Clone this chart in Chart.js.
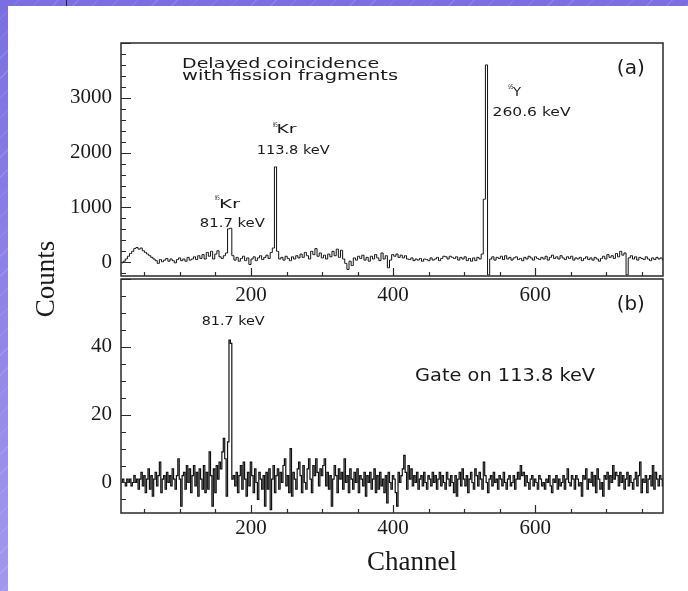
<!DOCTYPE html>
<html>
<head>
<meta charset="utf-8">
<script src="https://cdn.jsdelivr.net/npm/chart.js@4.4.1/dist/chart.umd.min.js"></script>
<style>
html, body { margin: 0; padding: 0; }
body {
    width: 688px; height: 591px; overflow: hidden; position: relative;
    background:
        repeating-linear-gradient(135deg, rgba(255,255,255,0) 0 13px, rgba(255,255,255,0.13) 13px 14px),
        linear-gradient(180deg, #7a6fe0 0%, #a398ef 100%);
}
#sheet { position: absolute; left: 8px; top: 6px; right: 0; bottom: 0; background: #fff; }
#mark { position: absolute; left: 66px; top: 0; width: 1px; height: 6px; background: #222; }
canvas { position: absolute; left: 0; top: 0; }
</style>
</head>
<body>
<div id="sheet"></div>
<div id="mark"></div>
<canvas id="chartA" width="688" height="591"></canvas>
<canvas id="chartB" width="688" height="591"></canvas>
<script>
var d = document;
var getEl = (id) => {
    return d.getElementById(id);
};

// panel (a): delayed coincidence with fission fragments, 3 channels per bin
var binStartA = 17;
var binWidthA = 3;
var countsA = [
    -10, 20, 60, 110, 160, 200, 250, 270, 240, 260,      // ch 17
    210, 180, 150, 120, 90, 60, 30, -20, 50, 10,         // ch 47
    40, 70, 20, 60, 30, -10, 50, 80, 30, 60,             // ch 77
    20, 90, 40, 60, 100, 50, 120, 70, 140, 60,           // ch 107
    180, 110, 200, 60, 150, 210, 100, 70, 120, 170,      // ch 137
    610, 620, 120, 40, 90, 20, 70, 110, 30, 80,          // ch 167  (81.7 keV)
    -40, 60, 100, 30, 80, 120, 50, 90, 130, 70,          // ch 197
    180, 260, 1740, 200, 60, 90, 40, 110, 70, 30,        // ch 227  (113.8 keV)
    100, 60, 120, 80, 150, 90, 180, 120, 60, 200,        // ch 257
    140, 250, 110, 170, 80, 130, 60, 150, 100, 200,      // ch 287
    120, 240, 90, 220, 60, -20, -130, 20, -60, 80,       // ch 317
    40, 110, 70, 130, 40, 90, 20, 110, 60, 140,          // ch 347
    80, 30, 170, 60, 120, -100, 40, 140, 110, 150,       // ch 377
    90, 130, 80, 120, 60, 50, 80, 30, 60, 40,            // ch 407
    70, 20, 60, 50, 30, 80, 40, 60, 90, 30,              // ch 437
    70, 110, 100, 60, 110, 90, 70, 100, 40, 90,          // ch 467
    60, 100, 30, 70, 20, 80, 30, 90, 60, 150,            // ch 497
    1150, 3600, -230, 60, 100, 40, 90, 70, 110, 50,      // ch 527  (260.6 keV)
    120, 60, 90, 40, 80, 100, 50, 70, 30, 90,            // ch 557
    60, 110, 80, 40, 100, 70, 50, 90, 60, 110,           // ch 587
    40, 90, 130, 70, 100, 60, 120, 80, 50, 100,          // ch 617
    70, 110, 40, 80, 60, 90, 30, 70, 100, 50,            // ch 647
    80, 40, 90, 60, 20, 70, 110, 60, 140, 90,            // ch 677
    120, 70, 160, 100, 200, 130, 170, -230, 80, 120,     // ch 707
    60, 100, 40, 90, 70, 50, 100, 60, 30, 80,            // ch 737
    50, 90, 60, 80, 40                                   // ch 767
];

// panel (b): gate on 113.8 keV, 2 channels per bin
var binStartB = 17;
var binWidthB = 2;
var countsB = [
    0, 1, 0, -1, 1, 0, 1, -1, 0, 2, 0, 1, -2, 1, 3, -1, 2, -3, 1, 4,        // ch 17
    -2, 2, -4, 1, 3, -1, 2, 6, -3, 1, 2, -2, 3, 0, 2, -1, 4, 1, -2, 2,      // ch 57
    7, 1, -7, 2, 3, -2, 5, 0, 4, -3, 2, 5, -1, 3, -4, 4, 1, -2, 5, -3,      // ch 97
    3, -2, 9, 2, -7, 4, -3, 5, 1, 6, 4, 9, 13, 7, -4, 12, 42, 41, 1, 2,     // ch 137 (81.7 keV)
    -1, 3, -3, 2, 5, -2, 6, 1, -4, 3, -1, 6, 2, -3, 4, 0, -5, 3, 1, -2,     // ch 177
    2, -7, 3, -2, 4, -8, 1, 5, -3, 2, 4, -2, 3, 0, 5, 7, -1, 2, -3, 10,     // ch 217
    -4, 3, 1, -2, 4, 6, 2, -3, 5, 0, -2, 4, 7, 1, -3, 5, 2, 7, 3, -1,       // ch 257
    4, 2, 5, 7, -1, 3, -2, 2, -7, 1, 5, 2, -3, 4, 1, 3, -2, 7, 0, 2,        // ch 297
    -3, 4, 1, -2, 3, 0, 4, -3, 2, 1, -1, 3, -4, 2, 0, 3, -2, 1, 4, -3,      // ch 337
    2, -2, 3, -1, 1, -3, 2, -6, 3, 0, -2, 2, 1, -3, -7, 3, 0, 2, 4, 8,      // ch 377
    3, -2, 5, 1, 4, -1, 2, 0, 3, -2, 1, 2, -1, 3, 0, -2, 2, 1, -1, 3,       // ch 417
    0, 2, -2, 1, 3, -1, 2, 0, -2, 3, 1, -1, 2, 0, -3, 2, -4, 1, 3, -1,      // ch 457
    4, 1, -1, 2, -3, 1, 3, 0, -2, 4, 2, -1, 3, 1, -2, 6, 2, 0, -3, 1,       // ch 497
    2, -1, 3, 0, 1, -2, 2, 1, -1, 3, 0, -2, 1, 2, -1, 0, 2, -2, 1, 3,       // ch 537
    1, 5, 2, 3, -1, 2, 0, -2, 1, 2, -1, 1, 0, -2, 2, 1, -1, 0, -2, 1,       // ch 577
    0, 2, -1, -3, 1, 0, 2, -2, 1, -1, 0, 2, -2, 1, 4, 0, -1, 2, 1, -2,      // ch 617
    2, 1, -1, 0, -4, 2, 1, 4, -2, 1, 0, 3, -1, 2, -3, 4, 1, -2, 0, -4,      // ch 657
    2, 1, 3, -2, 2, 0, 5, 1, 3, 2, -1, 3, 0, 2, -2, 1, 3, -1, 2, 0,         // ch 697
    -2, 1, 3, -1, 2, 6, -3, 1, 0, 2, -3, 1, 2, -1, 5, -2, 3, 1, -1, 2,      // ch 737
    1, -1                                                                   // ch 777
];

var channelRange = [17, 780];
var countsRangeA = [-250, 4000];
var countsRangeB = [-9, 60];

var channelTicks = [200, 400, 600];
var countTicksA = [0, 1000, 2000, 3000];
var countTicksB = [0, 20, 40];

// text written on the panels (anchored in channel / counts)
var notesA = [
    {text: 'Delayed coincidence', ch: 103, val: 3553, size: 14.5, width: 197},
    {text: 'with fission fragments', ch: 103, val: 3325, size: 14.5, width: 216},
    {text: '(a)', ch: 715, val: 3435, size: 19, width: 28},
    {text: '95', ch: 149, val: 1136, size: 6.5, width: 5},
    {text: 'Kr', ch: 155, val: 990, size: 13, width: 21},
    {text: '81.7 keV', ch: 128, val: 644, size: 13, width: 65},
    {text: '95', ch: 230.5, val: 2468, size: 6.5, width: 5},
    {text: 'Kr', ch: 236, val: 2358, size: 13, width: 20},
    {text: '113.8 keV', ch: 208, val: 1975, size: 13, width: 73},
    {text: '95', ch: 562, val: 3161, size: 6.5, width: 5},
    {text: 'Y', ch: 569, val: 3033, size: 13, width: 8},
    {text: '260.6 keV', ch: 540, val: 2668, size: 13, width: 78}
];
var notesB = [
    {text: '(b)', ch: 715, val: 50.9, size: 19, width: 28},
    {text: '81.7 keV', ch: 130.6, val: 46.4, size: 13, width: 63},
    {text: 'Gate on 113.8 keV', ch: 431, val: 29.9, size: 17, width: 180}
];

var serif = '"Liberation Serif", "DejaVu Serif", serif';
var ink = '#1a1a1a';

var histPoints = (start, width, counts) => {
    return counts.map((c, i) => ({x: start + (i + 0.5) * width, y: c}));
};

// frame round the plot area plus inward tick marks
function makeFrame(yMajor, yMinor)
{
    return {
        id: 'frame',
        afterDatasetsDraw(chart) {
            var ctx = chart.ctx, a = chart.chartArea;
            var xs = chart.scales.x, ys = chart.scales.y;
            ctx.save();
            ctx.strokeStyle = '#2a2a2a';
            ctx.lineWidth = 1.2;
            ctx.beginPath();
            for (var c = Math.ceil(xs.min / 50) * 50; c <= xs.max; c += 50) {
                var px = Math.round(xs.getPixelForValue(c)) + 0.5;
                var len = c % 200 == 0 ? 8 : 4;
                ctx.moveTo(px, a.bottom);
                ctx.lineTo(px, a.bottom - len);
            }
            for (var v = Math.ceil(ys.min / yMinor) * yMinor; v <= ys.max; v += yMinor) {
                var py = Math.round(ys.getPixelForValue(v)) + 0.5;
                var l = v % yMajor == 0 ? 10 : 5;
                ctx.moveTo(a.left, py);
                ctx.lineTo(a.left + l, py);
            }
            ctx.stroke();
            ctx.lineWidth = 1.5;
            ctx.strokeRect(a.left, a.top, a.right - a.left, a.bottom - a.top);
            ctx.restore();
        }
    };
}

function makeNotes(list)
{
    return {
        id: 'notes',
        afterDraw(chart) {
            var ctx = chart.ctx;
            var xs = chart.scales.x, ys = chart.scales.y;
            ctx.save();
            ctx.fillStyle = ink;
            ctx.textAlign = 'left';
            ctx.textBaseline = 'alphabetic';
            list.forEach(n => {
                ctx.font = n.size + 'px "DejaVu Sans"';
                var w = ctx.measureText(n.text).width;
                ctx.save();
                ctx.translate(xs.getPixelForValue(n.ch), ys.getPixelForValue(n.val));
                ctx.scale(n.width / w, 1);
                ctx.fillText(n.text, 0, 0);
                ctx.restore();
            });
            ctx.restore();
        }
    };
}

var axisTitles = {
    id: 'axisTitles',
    afterDraw(chart) {
        var ctx = chart.ctx;
        ctx.save();
        ctx.fillStyle = ink;
        ctx.font = '27px ' + serif;
        ctx.textAlign = 'center';
        ctx.textBaseline = 'alphabetic';
        ctx.fillText('Channel', 412, 570);
        ctx.translate(54, 279);
        ctx.rotate(-Math.PI / 2);
        ctx.fillText('Counts', 0, 0);
        ctx.restore();
    }
};

function panel(canvasId, points, yRange, yTicks, pad, xPad, lineW, extra)
{
    return new Chart(getEl(canvasId), {
        type: 'line',
        data: {
            datasets: [{
                data: points,
                borderColor: '#111',
                borderWidth: lineW,
                pointRadius: 0,
                stepped: 'middle',
                fill: false
            }]
        },
        options: {
            responsive: false,
            animation: false,
            events: [],
            layout: {padding: pad},
            plugins: {legend: {display: false}, tooltip: {enabled: false}},
            scales: {
                x: {
                    type: 'linear',
                    min: channelRange[0],
                    max: channelRange[1],
                    grid: {display: false, drawTicks: false},
                    border: {display: false},
                    afterBuildTicks: (ax) => { ax.ticks = channelTicks.map(v => ({value: v})); },
                    afterFit: (ax) => { ax.height = 40; },
                    ticks: {padding: xPad, maxRotation: 0, color: ink, font: {family: serif, size: 21},
                            callback: (v) => String(v)}
                },
                y: {
                    min: yRange[0],
                    max: yRange[1],
                    grid: {display: false, drawTicks: false},
                    border: {display: false},
                    afterBuildTicks: (ax) => { ax.ticks = yTicks.map(v => ({value: v})); },
                    afterFit: (ax) => { ax.width = 121; },
                    ticks: {padding: 9, color: ink, font: {family: serif, size: 21},
                            callback: (v) => String(v)}
                }
            }
        },
        plugins: extra
    });
}

panel('chartA', histPoints(binStartA, binWidthA, countsA), countsRangeA, countTicksA,
      {left: 0, right: 25, top: 43, bottom: 275}, 7, 1,
      [makeFrame(1000, 200), makeNotes(notesA)]);

panel('chartB', histPoints(binStartB, binWidthB, countsB), countsRangeB, countTicksB,
      {left: 0, right: 25, top: 279, bottom: 38}, 3, 1.2,
      [makeFrame(20, 5), makeNotes(notesB), axisTitles]);
</script>
</body>
</html>
